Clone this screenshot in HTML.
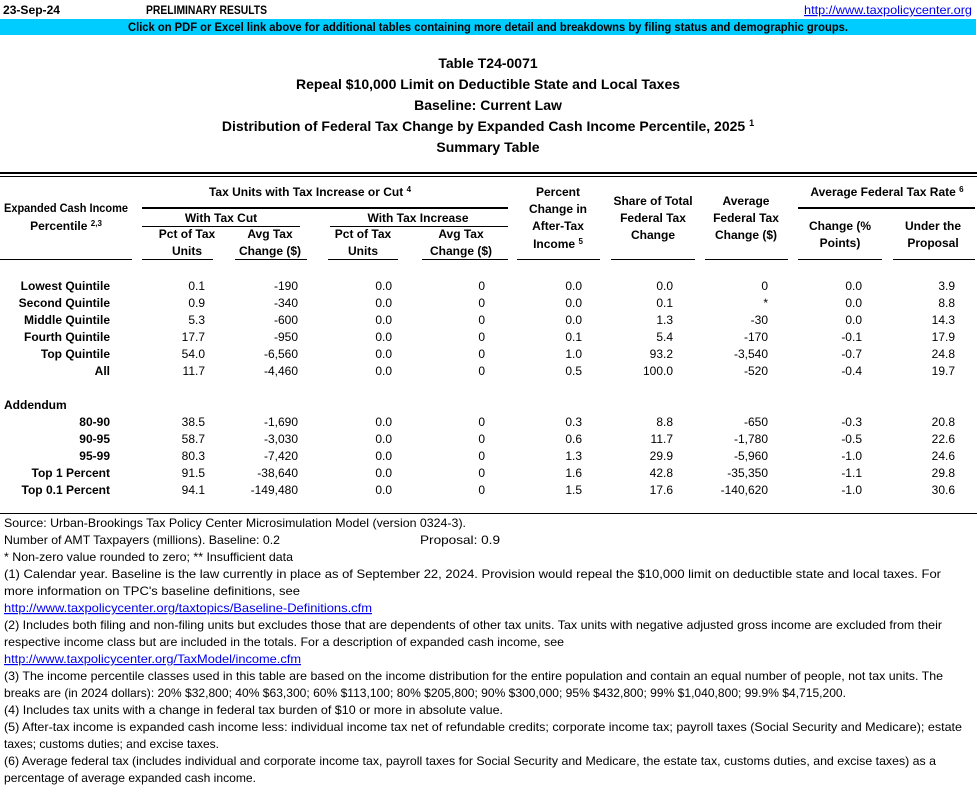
<!DOCTYPE html>
<html><head><meta charset="utf-8"><style>
html,body{margin:0;padding:0;background:#fff;}
svg{display:block;font-family:"Liberation Sans",Arial,sans-serif;}
.b{font-weight:bold;}
.t{font-size:12px;}
.h{font-size:14px;font-weight:bold;}
.m{text-anchor:middle;}
.r{text-anchor:end;}
.lk{fill:#0000ee;text-decoration:underline;}
</style></head><body>
<svg width="977" height="804" viewBox="0 0 977 804" xmlns="http://www.w3.org/2000/svg">
<text x="3" y="14" class="t b" textLength="57" lengthAdjust="spacingAndGlyphs">23-Sep-24</text>
<text x="146" y="14" class="t b" textLength="121" lengthAdjust="spacingAndGlyphs">PRELIMINARY RESULTS</text>
<text x="972" y="14" class="t r lk" textLength="168" lengthAdjust="spacingAndGlyphs">http://www.taxpolicycenter.org</text>
<rect x="0" y="19" width="976" height="16" fill="#00ccff"/>
<text x="128" y="31" class="t b" textLength="720" lengthAdjust="spacingAndGlyphs">Click on PDF or Excel link above for additional tables containing more detail and breakdowns by filing status and demographic groups.</text>

<text x="488" y="68" class="h m">Table T24-0071</text>
<text x="488" y="89" class="h m">Repeal $10,000 Limit on Deductible State and Local Taxes</text>
<text x="488" y="110" class="h m">Baseline: Current Law</text>
<text x="488" y="131" class="h m">Distribution of Federal Tax Change by Expanded Cash Income Percentile, 2025 <tspan font-size="9" dy="-5">1</tspan></text>
<text x="488" y="152" class="h m">Summary Table</text>

<rect x="0" y="172" width="977" height="2" fill="#000"/>
<rect x="0" y="176" width="977" height="1" fill="#000"/>

<g class="t b" font-size="11">
<text x="66" y="212" class="m" textLength="124" lengthAdjust="spacingAndGlyphs">Expanded Cash Income</text>
<text x="66" y="230" class="m">Percentile <tspan font-size="8" dy="-4">2,3</tspan></text>
<text x="310" y="196" class="m">Tax Units with Tax Increase or Cut <tspan font-size="8" dy="-4">4</tspan></text>
<text x="221" y="222" class="m">With Tax Cut</text>
<text x="418" y="222" class="m">With Tax Increase</text>
<text x="187" y="238" class="m">Pct of Tax</text><text x="187" y="255" class="m">Units</text>
<text x="270" y="238" class="m">Avg Tax</text><text x="270" y="255" class="m">Change ($)</text>
<text x="363" y="238" class="m">Pct of Tax</text><text x="363" y="255" class="m">Units</text>
<text x="461" y="238" class="m">Avg Tax</text><text x="461" y="255" class="m">Change ($)</text>
<text x="558" y="196" class="m">Percent</text>
<text x="558" y="213" class="m">Change in</text>
<text x="558" y="230" class="m">After-Tax</text>
<text x="558" y="248" class="m">Income <tspan font-size="8" dy="-4">5</tspan></text>
<text x="653" y="205" class="m">Share of Total</text>
<text x="653" y="222" class="m">Federal Tax</text>
<text x="653" y="239" class="m">Change</text>
<text x="746" y="205" class="m">Average</text>
<text x="746" y="222" class="m">Federal Tax</text>
<text x="746" y="239" class="m">Change ($)</text>
<text x="887" y="196" class="m">Average Federal Tax Rate <tspan font-size="8" dy="-4">6</tspan></text>
<text x="840" y="230" class="m">Change (%</text><text x="840" y="247" class="m">Points)</text>
<text x="933" y="230" class="m">Under the</text><text x="933" y="247" class="m">Proposal</text>
</g>
<g fill="#000">
<rect x="142" y="207" width="366" height="2"/>
<rect x="798" y="207" width="177" height="2"/>
<rect x="142" y="226" width="158" height="1"/>
<rect x="330" y="226" width="178" height="1"/>
<rect x="0" y="259" width="132" height="1"/>
<rect x="142" y="259" width="71" height="1"/>
<rect x="235" y="259" width="72" height="1"/>
<rect x="328" y="259" width="70" height="1"/>
<rect x="422" y="259" width="86" height="1"/>
<rect x="517" y="259" width="83" height="1"/>
<rect x="611" y="259" width="84" height="1"/>
<rect x="705" y="259" width="83" height="1"/>
<rect x="798" y="259" width="84" height="1"/>
<rect x="893" y="259" width="82" height="1"/>
<rect x="0" y="513" width="977" height="1"/>
</g>

<g class="t" font-size="12">
<g class="b r">
<text x="110" y="290">Lowest Quintile</text>
<text x="110" y="307">Second Quintile</text>
<text x="110" y="324">Middle Quintile</text>
<text x="110" y="341">Fourth Quintile</text>
<text x="110" y="358">Top Quintile</text>
<text x="110" y="375">All</text>
<text x="110" y="426">80-90</text>
<text x="110" y="443">90-95</text>
<text x="110" y="460">95-99</text>
<text x="110" y="477">Top 1 Percent</text>
<text x="110" y="494">Top 0.1 Percent</text>
</g>
<text x="4" y="409" class="b">Addendum</text>
<g class="r">
<text y="290"><tspan x="205">0.1</tspan><tspan x="298">-190</tspan><tspan x="392">0.0</tspan><tspan x="485">0</tspan><tspan x="582">0.0</tspan><tspan x="673">0.0</tspan><tspan x="768">0</tspan><tspan x="862">0.0</tspan><tspan x="955">3.9</tspan></text>
<text y="307"><tspan x="205">0.9</tspan><tspan x="298">-340</tspan><tspan x="392">0.0</tspan><tspan x="485">0</tspan><tspan x="582">0.0</tspan><tspan x="673">0.1</tspan><tspan x="768">*</tspan><tspan x="862">0.0</tspan><tspan x="955">8.8</tspan></text>
<text y="324"><tspan x="205">5.3</tspan><tspan x="298">-600</tspan><tspan x="392">0.0</tspan><tspan x="485">0</tspan><tspan x="582">0.0</tspan><tspan x="673">1.3</tspan><tspan x="768">-30</tspan><tspan x="862">0.0</tspan><tspan x="955">14.3</tspan></text>
<text y="341"><tspan x="205">17.7</tspan><tspan x="298">-950</tspan><tspan x="392">0.0</tspan><tspan x="485">0</tspan><tspan x="582">0.1</tspan><tspan x="673">5.4</tspan><tspan x="768">-170</tspan><tspan x="862">-0.1</tspan><tspan x="955">17.9</tspan></text>
<text y="358"><tspan x="205">54.0</tspan><tspan x="298">-6,560</tspan><tspan x="392">0.0</tspan><tspan x="485">0</tspan><tspan x="582">1.0</tspan><tspan x="673">93.2</tspan><tspan x="768">-3,540</tspan><tspan x="862">-0.7</tspan><tspan x="955">24.8</tspan></text>
<text y="375"><tspan x="205">11.7</tspan><tspan x="298">-4,460</tspan><tspan x="392">0.0</tspan><tspan x="485">0</tspan><tspan x="582">0.5</tspan><tspan x="673">100.0</tspan><tspan x="768">-520</tspan><tspan x="862">-0.4</tspan><tspan x="955">19.7</tspan></text>
<text y="426"><tspan x="205">38.5</tspan><tspan x="298">-1,690</tspan><tspan x="392">0.0</tspan><tspan x="485">0</tspan><tspan x="582">0.3</tspan><tspan x="673">8.8</tspan><tspan x="768">-650</tspan><tspan x="862">-0.3</tspan><tspan x="955">20.8</tspan></text>
<text y="443"><tspan x="205">58.7</tspan><tspan x="298">-3,030</tspan><tspan x="392">0.0</tspan><tspan x="485">0</tspan><tspan x="582">0.6</tspan><tspan x="673">11.7</tspan><tspan x="768">-1,780</tspan><tspan x="862">-0.5</tspan><tspan x="955">22.6</tspan></text>
<text y="460"><tspan x="205">80.3</tspan><tspan x="298">-7,420</tspan><tspan x="392">0.0</tspan><tspan x="485">0</tspan><tspan x="582">1.3</tspan><tspan x="673">29.9</tspan><tspan x="768">-5,960</tspan><tspan x="862">-1.0</tspan><tspan x="955">24.6</tspan></text>
<text y="477"><tspan x="205">91.5</tspan><tspan x="298">-38,640</tspan><tspan x="392">0.0</tspan><tspan x="485">0</tspan><tspan x="582">1.6</tspan><tspan x="673">42.8</tspan><tspan x="768">-35,350</tspan><tspan x="862">-1.1</tspan><tspan x="955">29.8</tspan></text>
<text y="494"><tspan x="205">94.1</tspan><tspan x="298">-149,480</tspan><tspan x="392">0.0</tspan><tspan x="485">0</tspan><tspan x="582">1.5</tspan><tspan x="673">17.6</tspan><tspan x="768">-140,620</tspan><tspan x="862">-1.0</tspan><tspan x="955">30.6</tspan></text>
</g>

<g>
<text x="4" y="527" textLength="462" lengthAdjust="spacingAndGlyphs">Source: Urban-Brookings Tax Policy Center Microsimulation Model (version 0324-3).</text>
<text x="4" y="544" textLength="276" lengthAdjust="spacingAndGlyphs">Number of AMT Taxpayers (millions).  Baseline: 0.2</text>
<text x="420" y="544" textLength="80" lengthAdjust="spacingAndGlyphs">Proposal: 0.9</text>
<text x="4" y="561" textLength="289" lengthAdjust="spacingAndGlyphs">* Non-zero value rounded to zero; ** Insufficient data</text>
<text x="4" y="578" textLength="937" lengthAdjust="spacingAndGlyphs">(1) Calendar year. Baseline is the law currently in place as of September 22, 2024. Provision would repeal the $10,000 limit on deductible state and local taxes. For</text>
<text x="4" y="595" textLength="296" lengthAdjust="spacingAndGlyphs">more information on TPC's baseline definitions, see</text>
<text x="4" y="612" class="lk" textLength="368" lengthAdjust="spacingAndGlyphs">http://www.taxpolicycenter.org/taxtopics/Baseline-Definitions.cfm</text>
<text x="4" y="629" textLength="938" lengthAdjust="spacingAndGlyphs">(2) Includes both filing and non-filing units but excludes those that are dependents of other tax units. Tax units with negative adjusted gross income are excluded from their</text>
<text x="4" y="646" textLength="560" lengthAdjust="spacingAndGlyphs">respective income class but are included in the totals. For a description of expanded cash income, see</text>
<text x="4" y="663" class="lk" textLength="297" lengthAdjust="spacingAndGlyphs">http://www.taxpolicycenter.org/TaxModel/income.cfm</text>
<text x="4" y="680" textLength="939" lengthAdjust="spacingAndGlyphs">(3) The income percentile classes used in this table are based on the income distribution for the entire population and contain an equal number of people, not tax units. The</text>
<text x="4" y="697" textLength="842" lengthAdjust="spacingAndGlyphs">breaks are (in 2024 dollars): 20% $32,800; 40% $63,300; 60% $113,100; 80% $205,800; 90% $300,000; 95% $432,800; 99% $1,040,800; 99.9% $4,715,200.</text>
<text x="4" y="714" textLength="499" lengthAdjust="spacingAndGlyphs">(4) Includes tax units with a change in federal tax burden of $10 or more in absolute value.</text>
<text x="4" y="731" textLength="958" lengthAdjust="spacingAndGlyphs">(5) After-tax income is expanded cash income less: individual income tax net of refundable credits; corporate income tax; payroll taxes (Social Security and Medicare); estate</text>
<text x="4" y="748" textLength="215" lengthAdjust="spacingAndGlyphs">taxes; customs duties; and excise taxes.</text>
<text x="4" y="765" textLength="932" lengthAdjust="spacingAndGlyphs">(6) Average federal tax (includes individual and corporate income tax, payroll taxes for Social Security and Medicare, the estate tax, customs duties, and excise taxes) as a</text>
<text x="4" y="782" textLength="252" lengthAdjust="spacingAndGlyphs">percentage of average expanded cash income.</text>
</g>
</g>
</svg>
</body></html>
